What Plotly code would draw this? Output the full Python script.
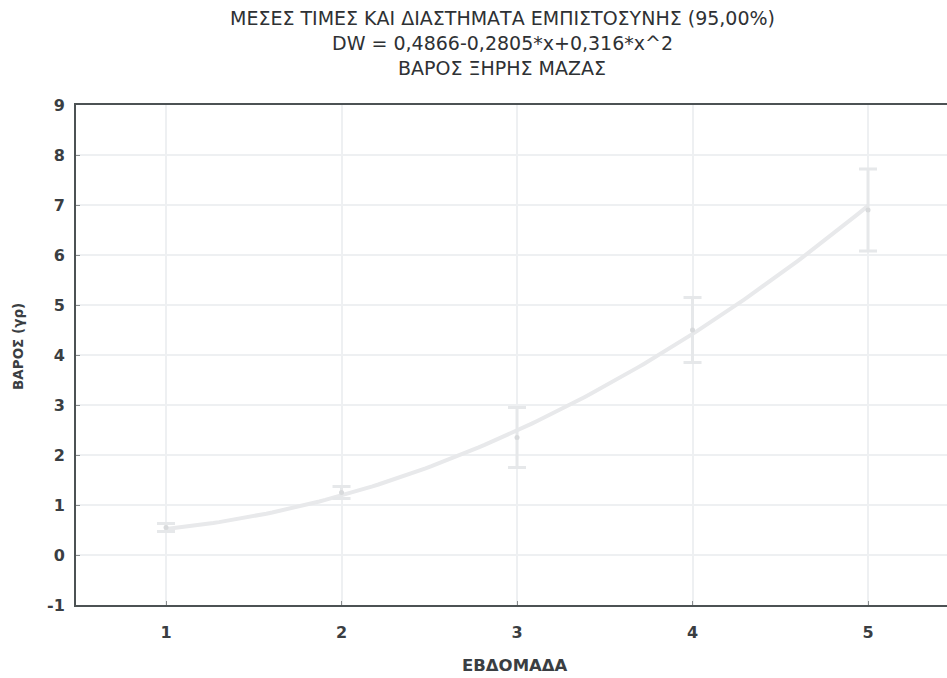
import numpy as np
import plotly.graph_objects as go

# Weekly dry-mass means and 95% confidence half-widths
weeks = [1, 2, 3, 4, 5]
mean_mass = [0.55, 1.25, 2.35, 4.5, 6.9]
ci_half = [0.08, 0.12, 0.6, 0.65, 0.82]

# Quadratic fit DW = a + b*x + c*x^2
fit_coef = [0.4866, -0.2805, 0.316]

x_ticks = [1, 2, 3, 4, 5]
y_ticks = [-1, 0, 1, 2, 3, 4, 5, 6, 7, 8, 9]

title_lines = [
    "ΜΕΣΕΣ ΤΙΜΕΣ ΚΑΙ ΔΙΑΣΤΗΜΑΤΑ ΕΜΠΙΣΤΟΣΥΝΗΣ (95,00%)",
    "DW = 0,4866-0,2805*x+0,316*x^2",
    "ΒΑΡΟΣ ΞΗΡΗΣ ΜΑΖΑΣ",
]

FONT = "DejaVu Sans, Verdana, sans-serif"
TXT = "#2e3134"
TXT_BOLD = "#3a3e42"

xs = np.linspace(1, 5, 120)
ys = fit_coef[0] + fit_coef[1] * xs + fit_coef[2] * xs ** 2

fig = go.Figure()
fig.add_trace(go.Scatter(
    x=xs, y=ys, mode="lines",
    line=dict(color="#e8e9eb", width=4), hoverinfo="skip", showlegend=False,
))
fig.add_trace(go.Scatter(
    x=weeks, y=mean_mass, mode="markers",
    marker=dict(color="#d8dadc", size=5),
    error_y=dict(type="data", array=ci_half, color="#e6e8ea", thickness=3, width=9),
    showlegend=False,
))

for i, line in enumerate(title_lines):
    fig.add_annotation(
        text=line, xref="paper", yref="paper", x=(502 - 76) / 871, y=1 + (87 - 25 * i) / 500,
        showarrow=False, xanchor="center", yanchor="middle",
        font=dict(family=FONT, size=19, color=TXT),
    )

fig.add_annotation(
    text="ΕΒΔΟΜΑΔΑ", xref="paper", yref="paper", x=(515 - 76) / 871, y=-60 / 500,
    showarrow=False, xanchor="center", yanchor="middle",
    font=dict(family=FONT, size=16.5, color=TXT_BOLD, weight="bold"),
)
fig.add_annotation(
    text="ΒΑΡΟΣ (γρ)", xref="paper", yref="paper", x=-58 / 871, y=(605 - 347) / 500,
    showarrow=False, xanchor="center", yanchor="middle", textangle=-90,
    font=dict(family=FONT, size=13.5, color=TXT_BOLD, weight="bold"),
)

tick_font = dict(family=FONT, size=16, color=TXT_BOLD, weight="bold")

fig.update_layout(
    width=947, height=678,
    margin=dict(l=76, r=0, t=105, b=73),
    paper_bgcolor="white", plot_bgcolor="white",
    font=dict(family=FONT, size=15, color=TXT),
    xaxis=dict(
        range=[0.487, 5.45], tickvals=x_ticks, ticktext=[str(v) for v in x_ticks],
        showgrid=True, gridcolor="#eef0f2", gridwidth=2, zeroline=False,
        showline=True, linecolor="#4c5254", linewidth=2, mirror=True,
        ticks="inside", ticklen=4, tickcolor="#8a8e90", ticklabelstandoff=12,
        tickfont=tick_font,
    ),
    yaxis=dict(
        range=[-1, 9], tickvals=y_ticks, ticktext=[str(v) for v in y_ticks],
        showgrid=True, gridcolor="#eef0f2", gridwidth=2, zeroline=False,
        showline=True, linecolor="#4c5254", linewidth=2, mirror=False,
        ticks="inside", ticklen=4, tickcolor="#8a8e90", ticklabelstandoff=6,
        tickfont=tick_font,
    ),
)

fig.write_html("out.html")
